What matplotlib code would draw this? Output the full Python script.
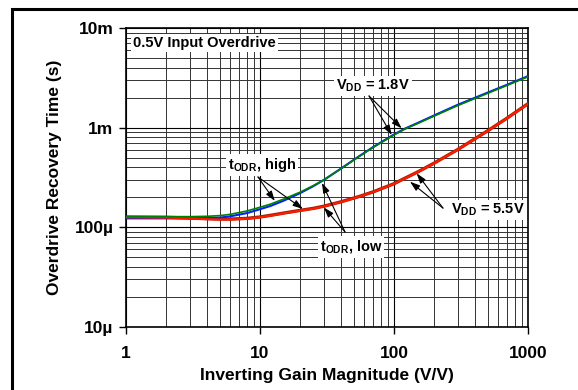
import matplotlib
matplotlib.use("Agg")
import matplotlib.pyplot as plt
from matplotlib.patches import Rectangle

plt.rcParams['font.family'] = ['Liberation Sans', 'DejaVu Sans']
plt.rcParams['font.weight'] = 'bold'
plt.rcParams['mathtext.fontset'] = 'custom'
plt.rcParams['mathtext.rm'] = 'Liberation Sans:bold'
plt.rcParams['mathtext.bf'] = 'Liberation Sans:bold'
plt.rcParams['mathtext.it'] = 'Liberation Sans:bold'

# Data (gain in V/V, time in seconds)
gain = [1, 2, 3, 4, 5, 6, 8, 10, 12, 15, 20, 25, 30, 40, 55, 70, 100, 120, 150, 200, 300, 500, 700, 1000]
t_18_low = [123e-6, 123e-6, 123e-6, 124e-6, 125e-6, 129e-6, 139e-6, 152e-6, 164e-6, 185e-6, 221e-6,
            259e-6, 299e-6, 387e-6, 518e-6, 640e-6, 855e-6, 975e-6, 1.115e-3, 1.33e-3, 1.70e-3,
            2.25e-3, 2.70e-3, 3.29e-3]
t_18_high = [128e-6, 128e-6, 128e-6, 129e-6, 131e-6, 135e-6, 146e-6, 159e-6, 171e-6, 192e-6, 226e-6,
             262e-6, 300e-6, 385e-6, 515e-6, 635e-6, 845e-6, 965e-6, 1.10e-3, 1.31e-3, 1.67e-3,
             2.21e-3, 2.66e-3, 3.24e-3]
t_55_low = [127e-6, 126e-6, 124e-6, 122e-6, 121e-6, 121e-6, 123e-6, 127e-6, 132e-6, 139e-6, 148e-6,
            155e-6, 163e-6, 180e-6, 204e-6, 227e-6, 274e-6, 310e-6, 359e-6, 442e-6, 605e-6,
            930e-6, 1.25e-3, 1.74e-3]
t_55_high = [126e-6, 125e-6, 123e-6, 121e-6, 120e-6, 120e-6, 122e-6, 126e-6, 131e-6, 138e-6, 147e-6,
             154e-6, 162e-6, 179e-6, 203e-6, 226e-6, 273e-6, 308e-6, 358e-6, 440e-6, 603e-6,
             927e-6, 1.246e-3, 1.73e-3]

x_ticks = [1, 10, 100, 1000]
x_labels = ['1', '10', '100', '1000']
y_ticks = [1e-5, 1e-4, 1e-3, 1e-2]
y_labels = ['10µ', '100µ', '1m', '10m']

fig = plt.figure(figsize=(5.78, 3.90), dpi=100)
ax = fig.add_axes([126 / 578, 1 - 327 / 390, 402 / 578, 299 / 390])

# outer frame (runs off the right and bottom of the image)
fig.patches.append(Rectangle((11.5 / 578, -0.2), 1.2, 1.2 - 8.5 / 390, transform=fig.transFigure,
                             fill=False, ec='black', lw=2.2, clip_on=False))

ax.plot(gain, t_55_low, color='#a02000', lw=2.4, zorder=3)
ax.plot(gain, t_55_high, color='#ff1a00', lw=1.5, zorder=4)
ax.plot(gain, t_18_low, color='#0020ff', lw=1.5, zorder=3)
ax.plot(gain, t_18_high, color='#008000', lw=1.2, zorder=4)

ax.set_xscale('log')
ax.set_yscale('log')
ax.set_xlim(1, 1000)
ax.set_ylim(1e-5, 1e-2)
ax.set_xticks(x_ticks)
ax.set_xticklabels(x_labels)
ax.set_yticks(y_ticks)
ax.set_yticklabels(y_labels)
ax.tick_params(which='major', length=5, width=1, direction='out', labelsize=12.5)
ax.tick_params(axis='x', which='major', pad=9)
ax.tick_params(axis='y', which='major', pad=4)
ax.tick_params(which='minor', length=0)
ax.grid(True, which='major', color='black', lw=0.8)
ax.grid(True, which='minor', color='#333333', lw=0.7)
for s in ax.spines.values():
    s.set_linewidth(1.2)

ax.set_xlabel('Inverting Gain Magnitude (V/V)', fontsize=12.5, fontweight='bold', labelpad=5)
ax.set_ylabel('Overdrive Recovery Time (s)', fontsize=12.5, fontweight='bold', labelpad=9)

box = dict(fc='white', ec='none', pad=1.5)
arrow = dict(arrowstyle='-|>,head_length=0.6,head_width=0.2', color='black', lw=0.8, shrinkA=0, shrinkB=0)

ax.text(1.13, 7.07e-3, '0.5V Input Overdrive', fontsize=10.5, fontweight='bold',
        ha='left', va='center', bbox=box, zorder=5)

ax.text(10.35, 422e-6, r'$\mathbf{t_{ODR}}$, high', fontsize=10.5, ha='center', va='center', bbox=box, zorder=5)
ax.annotate('', xy=(12.9, 184e-6), xytext=(9.66, 320e-6), arrowprops=arrow, zorder=6)
ax.annotate('', xy=(20.9, 153e-6), xytext=(9.66, 320e-6), arrowprops=arrow, zorder=6)

ax.text(47.8, 63.5e-6, r'$\mathbf{t_{ODR}}$, low', fontsize=10.5, ha='center', va='center', bbox=box, zorder=5)
ax.annotate('', xy=(29, 279e-6), xytext=(43.1, 89.8e-6), arrowprops=arrow, zorder=6)
ax.annotate('', xy=(30, 158e-6), xytext=(43.1, 89.8e-6), arrowprops=arrow, zorder=6)

ax.text(69.7, 2.62e-3, r'$\mathbf{V_{DD}}$ = 1.8V', fontsize=10.5, ha='center', va='center', bbox=box, zorder=5)
ax.annotate('', xy=(96.1, 844e-6), xytext=(65.1, 2.08e-3), arrowprops=arrow, zorder=6)
ax.annotate('', xy=(114, 986e-6), xytext=(65.1, 2.08e-3), arrowprops=arrow, zorder=6)

ax.text(499, 149e-6, r'$\mathbf{V_{DD}}$ = 5.5V', fontsize=10.5, ha='center', va='center', bbox=box, zorder=5)
ax.annotate('', xy=(147.7, 348e-6), xytext=(232, 156e-6), arrowprops=arrow, zorder=6)
ax.annotate('', xy=(131.6, 287e-6), xytext=(232, 156e-6), arrowprops=arrow, zorder=6)

fig.savefig('out.png', dpi=100)
